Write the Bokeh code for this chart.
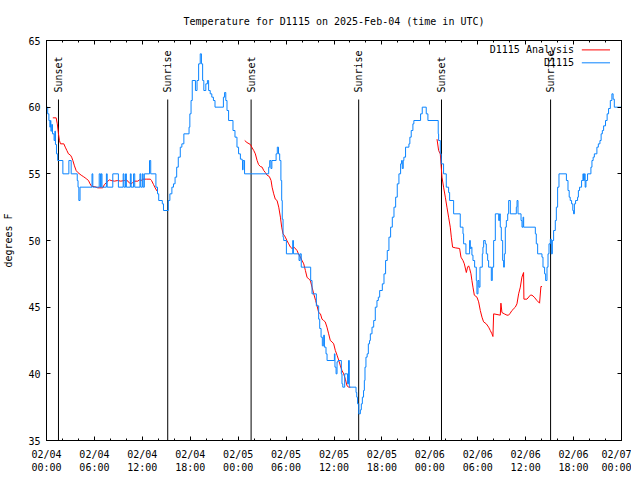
import math
from bokeh.plotting import figure
from bokeh.models import (Range1d, FixedTicker, LinearAxis, CustomJSTickFormatter,
                          Label, ColumnDataSource)
from bokeh.core.properties import value
from bokeh.embed import file_html
from bokeh.resources import INLINE

FONT = "DejaVu Sans Mono"
NAN = float("nan")

# ---------------- data (hours since 2025-02-04 00:00 UTC) ----------------
obs_hours = [0.0, 0.15, 0.3, 0.42, 0.5, 0.55, 0.65, 0.75, 0.95, 1.05, 1.12, 1.25, 1.4,
             2.05, 2.8, 3.09, 3.85, 3.95, 4.05, 4.2, 5.7, 5.8, 6.6, 6.75, 6.85, 6.95,
             7.5, 7.6, 8.3, 9.0, 9.6, 9.7, 9.9, 10.0, 10.5, 10.6, 10.9, 11.05, 11.7,
             11.8, 12.0, 12.1, 12.25, 12.9, 13.05, 13.7, 13.9, 14.05, 14.5, 14.65,
             15.25, 15.45, 15.7, 15.9, 16.1, 16.3, 16.5, 16.75, 16.95, 17.2, 17.85,
             17.95, 18.1, 18.25, 18.65, 18.85, 19.05, 19.25, 19.4, 19.55, 19.7, 19.95,
             20.15, 20.3, 20.5, 20.7, 20.9, 21.1, 22.15, 22.3, 22.45, 22.6, 22.8,
             23.35, 23.6, 23.85, 24.05, 24.28, 24.5, 24.55, 24.62, 24.8,
             27.82, 27.95, 28.1, 28.22, 28.75, 28.9, 29.05, 29.2, 29.35, 29.45, 29.52,
             29.62, 29.7, 30.04, 30.83, 30.92, 31.62, 31.75, 31.9, 33.08, 33.25,
             33.79, 34.08, 34.21, 34.38, 34.54, 34.71, 34.8, 35.0, 35.13, 36.05,
             36.12, 36.26, 36.38, 36.51, 36.92, 37.0, 37.1, 37.34, 37.7, 37.82, 37.92,
             38.76, 38.85, 38.95, 39.1, 39.3, 39.42, 39.55, 39.7, 39.8, 39.88, 40.0,
             40.15, 40.3, 40.45, 40.55, 40.76, 40.97, 41.17, 41.38, 41.55, 41.72,
             42.05, 42.26, 42.46, 42.67, 42.88, 43.09, 43.3, 43.51, 43.72, 43.92,
             44.13, 44.34, 44.46, 44.55, 44.67, 44.75, 44.96, 45.38, 45.5, 45.67,
             45.88, 46.0, 46.84, 47.05, 47.55, 47.76, 49.05, 49.1, 49.31, 49.43,
             49.72, 50.06, 50.35, 50.48, 50.98, 51.81, 52.15, 52.23, 52.52, 52.98,
             53.07, 53.19, 53.27, 53.4, 53.61, 53.82, 53.9, 54.03, 54.15, 54.28,
             54.57, 54.65, 54.74, 54.94, 55.07, 55.24, 55.36, 55.7, 55.82, 55.99,
             56.2, 56.62, 56.74, 56.82, 56.95, 57.12, 57.24, 57.33, 57.45, 57.58,
             57.75, 57.87, 58.08, 58.83, 58.92, 59.04, 59.42, 59.54, 59.67, 59.75,
             61.21, 61.33, 61.5, 62.04, 62.17, 62.37, 62.5, 62.67, 62.8, 62.92,
             63.09, 63.21, 63.34, 63.5, 63.71, 63.84, 64.0, 64.17, 65.1, 65.3,
             65.45, 65.58, 65.75, 65.9, 66.0, 66.1, 66.25, 66.5, 66.6, 66.75, 67.0,
             67.17, 67.25, 67.35, 67.45, 67.55, 67.75, 68.17, 68.3, 68.45, 68.6,
             68.92, 69.1, 69.3, 69.45, 69.6, 69.76, 70.0, 70.2, 70.38, 70.6, 70.8,
             70.95, 71.1, 72.0]
obs_temps = [60, 59.5, 59, 58.5, 59, 58.2, 58.7, 58, 57.5, 58.2, 57.2, 56.5, 56,
             55, 56, 55, 54.5, 54, 53, 54, 55, 54, 55, 54, 55, 54,
             55, 54, 55, 54, 55, 54, 55, 54, 55, 54, 55, 54, 55,
             54, 55, 54, 55, 56, 55, 54, 53.5, 53, 52.75, 52.25,
             53, 53.5, 54, 54.25, 54.75, 55.5, 56.25, 57, 57.25, 58, 58.5,
             59.5, 60.5, 62, 61.25, 62, 63.25, 64, 63.25, 62, 61.25, 61.75,
             62, 61.25, 61, 60.75, 60.5, 60, 60.75, 61.1, 60.5, 59.75, 59,
             58.25, 57.75, 57, 56.5, 56.1, 56, 55.3, 56, 55,
             55.5, 56, 55.4, 56, 56.5, 57, 56.5, 56, 54.5, 53, 51.6,
             50.25, 50, 49, 50, 49, 48.5, 49, 48, 47, 46,
             45.1, 44.1, 43.4, 42.75, 42.1, 42.9, 42, 41.5, 41, 41.5,
             40.5, 40, 40.9, 41, 40, 39.25, 39, 40, 39.25, 41, 39,
             38.6, 38.25, 37.75, 37, 37.3, 37.75, 38.25, 38.75, 39.5, 40.5, 41.25,
             41.5, 42.25, 42.5, 43, 43.5, 44, 45, 45.5, 45.75, 46.25,
             46.75, 47.5, 48.5, 49.25, 50.25, 51, 51.75, 52.5, 53.25, 54.25,
             55, 55.75, 56, 55.4, 56, 56.25, 57, 57.25, 57.75, 58.25,
             58.75, 59, 59.5, 60, 59.5, 59, 58, 57.5, 56.5, 55.75,
             55, 54, 53.6, 53, 52, 51, 50.5, 49.75, 49, 50,
             49.4, 49.5, 48.9, 48.5, 48, 47, 46, 47, 46.5, 48,
             49, 49.5, 50, 49.75, 49, 48.5, 48, 47, 48, 50,
             52, 51.5, 52, 51, 50, 48.5, 48, 49, 51, 51.5,
             52, 53, 52, 52.5, 53, 52, 51.5, 51, 51.75, 51,
             50.5, 49.75, 49, 48.75, 48, 47.5, 47, 48, 49, 49.75,
             50.1, 49, 50, 50.75, 51.5, 52.5, 54, 55, 54.5, 53.75,
             53.25, 53, 52.75, 52.25, 52, 52.75, 53, 53.25, 53.75, 54, 54.5,
             55, 54.5, 55, 54, 54.5, 55, 55.5, 56, 56.25, 56.5,
             57, 57.25, 57.5, 58, 58.25, 58.6, 59, 59.5, 59.9, 60.5, 61,
             60.6, 60, 60]

ana_hours = [0.79, 1.21, 1.35, 1.5, 1.62, 1.75, 2.17, 2.35, 2.55, 2.75, 3.0, 3.15,
             3.3, 3.5, 3.71, 3.92, 4.34, 4.6, 4.84, 5.05, 5.26, 5.45, 5.67, 6.0,
             6.42, 7.05, 7.25, 7.45, 7.68, 7.9, 8.09, 8.5, 8.92, 9.3, 9.76, 9.95,
             10.2, 10.4, 10.6, 10.8, 11.0, 11.43, 11.65, 11.85, 12.05, 12.5, 13.0,
             13.15, 13.4, 13.6, 13.85, NAN,
             24.82, 25.1, 25.53, 25.75, 25.95, 26.15, 26.37, 26.55, 26.78, 27.0,
             27.2, 27.4, 27.62, 27.9, 28.12, 28.25, 28.45, 28.65, 28.87, 29.08,
             29.29, 29.45, 29.62, 29.75, 29.91, 30.1, 30.33, 30.55, 30.75, 31.0,
             31.37, 31.55, 31.79, 32.0, 32.21, 32.42, 32.62, 32.85, 33.04, 33.25,
             33.46, 33.7, 33.88, 34.08, 34.3, 34.5, 34.7, 34.9, 35.12, 35.33,
             35.54, 35.75, 35.96, 36.17, 36.38, 36.6, 36.8, 37.0, 37.21, 37.42,
             37.63, 37.85, 38.05, NAN,
             48.9, 49.1, 49.31, 49.52, 49.72, 49.94, 50.14, 50.35, 50.56, 50.69,
             50.85, 51.19, 51.73, 51.9, 52.15, 52.32, 52.57, 52.73, 52.86, 52.98,
             53.15, 53.27, 53.4, 53.57, 53.9, 54.11, 54.32, 54.53, 54.73, 55.07,
             55.36, 55.57, 55.78, 55.9, 55.99, 56.41, 56.82, 56.9, 57.03, 57.32,
             57.66, 57.86, 58.07, 58.28, 58.7, 58.91, 59.12, 59.33, 59.53, 59.74,
             59.78, 60.16, 60.58, 60.79, 61.08, 61.41, 61.74, 61.91, 62.04]
ana_temps = [59.2, 59.2, 58.75, 58.0, 57.5, 57.25, 57.25, 57.0, 56.75, 56.5, 56.4, 56.25,
             56.0, 55.6, 55.25, 55.1, 54.9, 54.8, 54.7, 54.6, 54.5, 54.25, 54.05, 54.05,
             53.95, 53.95, 54.2, 54.3, 54.45, 54.55, 54.5, 54.45, 54.5, 54.45, 54.5, 54.55,
             54.45, 54.3, 54.25, 54.35, 54.45, 54.45, 54.55, 54.5, 54.6, 54.6, 54.6,
             54.5, 54.2, 53.95, 53.7, NAN,
             57.5, 57.35, 57.2, 56.95, 56.75, 56.5, 56.0, 55.7, 55.55, 55.5,
             55.25, 55.1, 54.9, 54.8, 54.5, 54.0, 53.5, 53.1, 53.0, 52.5,
             51.75, 51.0, 50.5, 50.4, 50.25, 50.0, 49.75, 49.5, 49.4, 49.5,
             49.25, 49.0, 48.75, 48.5, 48.25, 47.75, 47.25, 47.1, 47.0, 46.5,
             46.0, 45.5, 45.1, 44.6, 44.5, 44.1, 44.0, 43.9, 43.5, 43.0,
             42.5, 42.4, 42.25, 41.75, 41.4, 41.0, 40.6, 40.25, 40.0, 39.6,
             39.1, 39.0, 39.0, NAN,
             57.6, 56.75, 56.5, 54.75, 54.0, 53.25, 52.5, 51.75, 51.0, 50.25,
             49.5, 49.45, 49.4, 48.75, 48.5, 48.25, 47.6, 48.0, 48.1, 47.9,
             47.5, 47.0, 46.5, 45.9, 45.75, 45.4, 44.75, 44.25, 43.9, 43.75,
             43.5, 43.25, 43.0, 42.8, 44.5, 44.45, 44.4, 45.3, 44.6, 44.5,
             44.4, 44.4, 44.55, 44.75, 45.0, 45.25, 46.0, 46.5, 47.25, 47.6,
             45.6, 45.6, 45.9, 45.9, 45.75, 45.5, 45.3, 46.55, 46.55]

event_hours = [1.5, 15.18, 25.62, 39.09, 49.46, 63.12]
event_names = ["Sunset", "Sunrise", "Sunset", "Sunrise", "Sunset", "Sunrise"]

x_major_ticks = [0, 6, 12, 18, 24, 30, 36, 42, 48, 54, 60, 66, 72]
x_minor_ticks = list(range(0, 73, 2))
x_tick_labels = ["02/04\n00:00", "02/04\n06:00", "02/04\n12:00", "02/04\n18:00",
                 "02/05\n00:00", "02/05\n06:00", "02/05\n12:00", "02/05\n18:00",
                 "02/06\n00:00", "02/06\n06:00", "02/06\n12:00", "02/06\n18:00",
                 "02/07\n00:00"]
y_ticks = [35, 40, 45, 50, 55, 60, 65]

series_names = ["D1115 Analysis", "D1115"]
series_colors = ["#ff0000", "#0a84ff"]

# ---------------- figure ----------------
X0, X1, Y0, Y1 = 0, 72, 35, 65
p = figure(frame_width=575, frame_height=400,
           x_range=Range1d(X0, X1), y_range=Range1d(Y0, Y1),
           output_backend="svg", toolbar_location=None,
           min_border_left=38, min_border_right=10, min_border_top=32, min_border_bottom=30,
           title="Temperature for D1115 on 2025-Feb-04 (time in UTC)")
p.title.text_font = FONT
p.title.text_font_size = "10px"
p.title.text_font_style = "normal"
p.title.text_color = "black"
p.title.align = "center"
p.title.standoff = 27
p.xgrid.visible = False
p.ygrid.visible = False
p.outline_line_color = "black"
p.background_fill_color = "white"
p.border_fill_color = "white"

def style_axis(ax, minor):
    ax.axis_line_color = "black"
    ax.major_tick_in = 4
    ax.major_tick_out = 0
    ax.major_tick_line_color = "black"
    if minor:
        ax.minor_tick_in = 2
        ax.minor_tick_out = 0
        ax.minor_tick_line_color = "black"
    else:
        ax.minor_tick_line_color = None
    ax.major_label_text_font = FONT
    ax.major_label_text_font_size = "10px"
    ax.major_label_text_color = "black"

xb = p.xaxis[0]
xb.ticker = FixedTicker(ticks=x_major_ticks, minor_ticks=x_minor_ticks)
xb.major_label_overrides = {t: lab for t, lab in zip(x_major_ticks, x_tick_labels)}
xb.major_label_standoff = 8
style_axis(xb, True)

yl = p.yaxis[0]
yl.ticker = FixedTicker(ticks=y_ticks)
yl.major_label_standoff = 6
yl.axis_label = "degrees F"
yl.axis_label_text_font = FONT
yl.axis_label_text_font_size = "10px"
yl.axis_label_text_font_style = "normal"
yl.axis_label_text_color = "black"
yl.axis_label_standoff = 11
style_axis(yl, False)

blank = CustomJSTickFormatter(code="return ''")
xt = LinearAxis(ticker=FixedTicker(ticks=x_major_ticks, minor_ticks=x_minor_ticks),
                formatter=blank, major_label_standoff=0)
style_axis(xt, True)
p.add_layout(xt, "above")
yr = LinearAxis(ticker=FixedTicker(ticks=y_ticks), formatter=blank, major_label_standoff=0)
style_axis(yr, False)
p.add_layout(yr, "right")

# event markers
line_top = Y0 + 0.8525 * (Y1 - Y0)
label_y = Y0 + 0.87 * (Y1 - Y0)
ev = ColumnDataSource(dict(x=event_hours, name=event_names,
                           y0=[Y0] * len(event_hours), y1=[line_top] * len(event_hours),
                           ly=[label_y] * len(event_hours)))
p.segment(x0="x", y0="y0", x1="x", y1="y1", source=ev, line_color="black", line_width=1)
p.text(x="x", y="ly", text="name", source=ev, angle=math.pi / 2,
       text_align="left", text_baseline="middle", text_font=value(FONT),
       text_font_size="10px", text_color="black")

# data series
p.line(ana_hours, ana_temps, line_color=series_colors[0], line_width=1)
p.step(obs_hours, obs_temps, mode="after", line_color=series_colors[1], line_width=1)

# key (top right, text right-aligned, sample to the right)
key_text_x = X1 - 0.0825 * (X1 - X0)
key_x0 = X1 - 0.069 * (X1 - X0)
key_x1 = X1 - 0.02 * (X1 - X0)
key_y = [Y1 - 0.0235 * (Y1 - Y0), Y1 - 0.0558 * (Y1 - Y0)]
for name, color, ky in zip(series_names, series_colors, key_y):
    p.add_layout(Label(x=key_text_x, y=ky, text=name, text_align="right",
                       text_baseline="middle", text_font=FONT, text_font_size="10px",
                       text_color="black"))
    p.segment(x0=[key_x0], y0=[ky], x1=[key_x1], y1=[ky], line_color=color, line_width=1)

open("out.html", "w").write(file_html(p, INLINE))
